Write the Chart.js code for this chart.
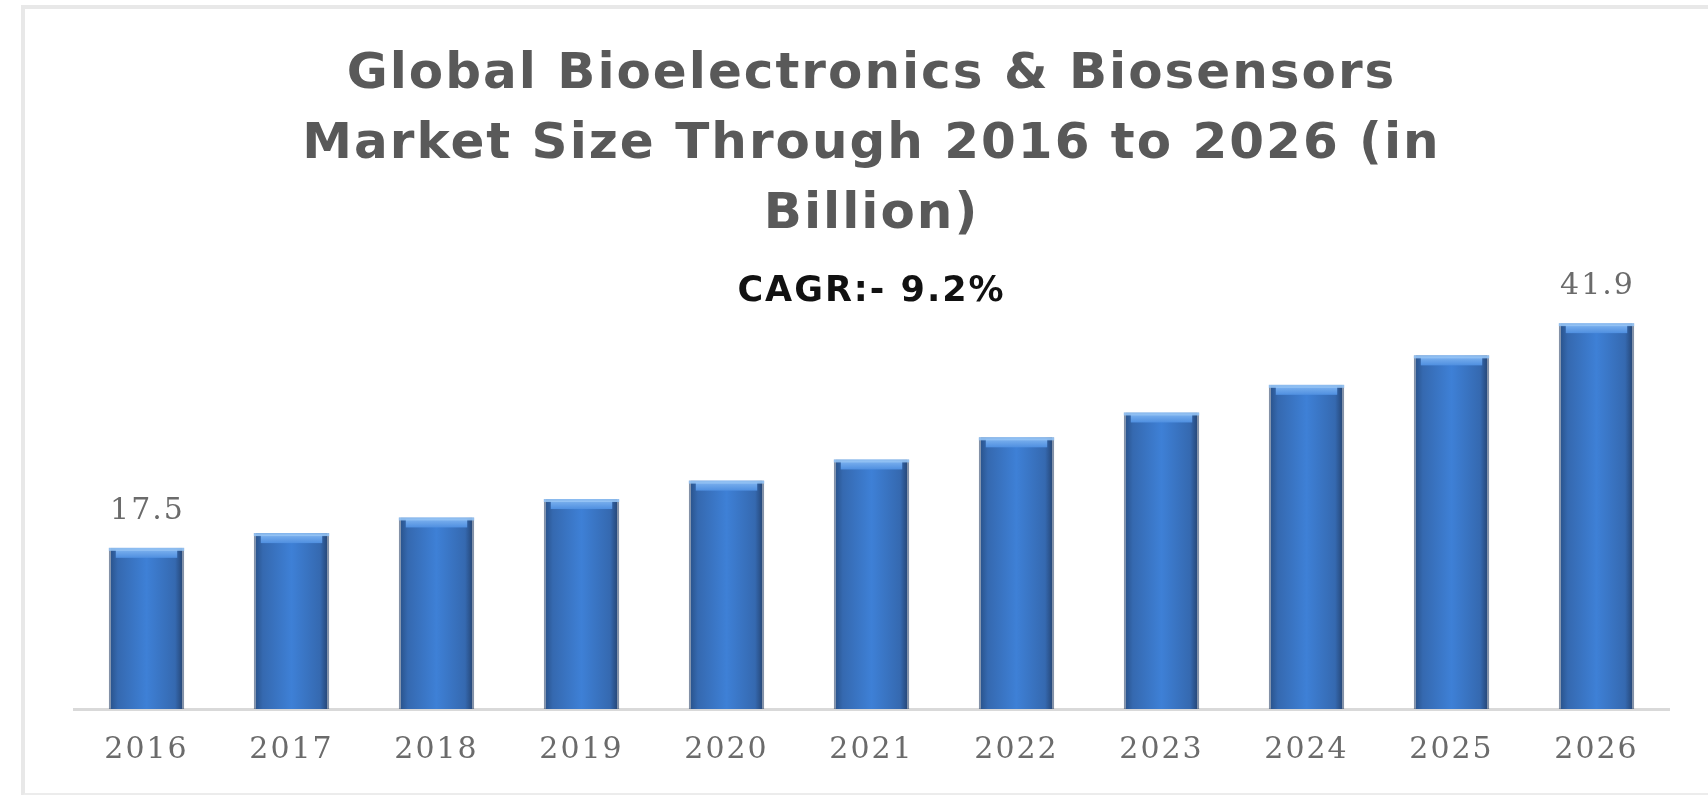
<!DOCTYPE html>
<html>
<head>
<meta charset="utf-8">
<script src="https://cdn.jsdelivr.net/npm/chart.js@4.4.1/dist/chart.umd.min.js"></script>
<style>
  html, body { margin: 0; padding: 0; background: #fff; }
  #frame {
    position: absolute; left: 21px; top: 5px; width: 1700px; height: 784px;
    border-left: 4px solid #e8e8e8; border-top: 4px solid #e8e8e8; border-bottom: 4px solid #ececec;
  }
  #wrap { position: absolute; left: 0; top: 0; width: 1708px; height: 795px; }
</style>
</head>
<body>
<div id="frame"></div>
<div id="wrap"><canvas id="marketsize"></canvas></div>
<script>
const years = ['2016', '2017', '2018', '2019', '2020', '2021', '2022', '2023', '2024', '2025', '2026'];
const marketSize = [17.5, 19.1, 20.8, 22.8, 24.8, 27.1, 29.5, 32.2, 35.2, 38.4, 41.9];
const shownLabels = [true, false, false, false, false, false, false, false, false, false, true];
const titleLines = ['Global Bioelectronics & Biosensors', 'Market Size Through 2016 to 2026 (in', 'Billion)'];
const subtitleText = 'CAGR:- 9.2%';

const barPct = 0.52;

// horizontal shading across each bar, like the 3d look of the original
function barFill(context) {
    const chart = context.chart;
    const xs = chart.scales.x;
    if (!xs || !chart.chartArea) return '#3b7bd0';
    const cx = xs.getPixelForValue(context.dataIndex);
    const w = (xs.width / years.length) * barPct;
    const g = chart.ctx.createLinearGradient(cx - w / 2, 0, cx + w / 2, 0);
    g.addColorStop(0, '#274f85');
    g.addColorStop(0.12, '#3569b0');
    g.addColorStop(0.5, '#3e80d6');
    g.addColorStop(0.88, '#3569b0');
    g.addColorStop(1, '#223f6b');
    return g;
}

// the original text looks stretched sideways, so space the letters a bit
const wideText = {
    id: 'wideText',
    beforeDraw(chart) {
        chart.ctx.letterSpacing = '2px';
    },
    beforeDatasetsDraw(chart) {
        chart.ctx.letterSpacing = '0px';
    }
};

const barDecor = {
    id: 'barDecor',
    afterDatasetsDraw(chart) {
        const ctx = chart.ctx;
        const meta = chart.getDatasetMeta(0);
        meta.data.forEach(function (bar, i) {
            const left = bar.x - bar.width / 2;
            // light cap on top of the bar
            const cap = ctx.createLinearGradient(0, bar.y, 0, bar.y + 10);
            cap.addColorStop(0, '#86b9f2');
            cap.addColorStop(1, '#4f8fe0');
            ctx.fillStyle = cap;
            ctx.fillRect(left + 7, bar.y + 2, bar.width - 14, 8);
            ctx.fillStyle = 'rgba(150,196,245,0.9)';
            ctx.fillRect(left, bar.y, bar.width, 3);

            if (shownLabels[i]) {
                ctx.save();
                ctx.letterSpacing = '2px';
                ctx.font = '30px "DejaVu Serif"';
                ctx.fillStyle = '#6b6b6b';
                ctx.textAlign = 'center';
                ctx.textBaseline = 'middle';
                ctx.fillText(String(marketSize[i]), bar.x + 1, bar.y - 37);
                ctx.restore();
            }
        });
    }
};

const msctx = document.getElementById('marketsize').getContext('2d');
let marketChart = new Chart(msctx, {
    type: 'bar',
    data: {
        labels: years,
        datasets: [{
            label: 'Market Size',
            data: marketSize,
            backgroundColor: barFill,
            borderColor: 'rgba(30,55,95,0.55)',
            borderWidth: { left: 2, right: 2, top: 0, bottom: 0 },
            borderSkipped: false,
            barPercentage: barPct,
            categoryPercentage: 1
        }]
    },
    options: {
        responsive: true,
        maintainAspectRatio: false,
        animation: false,
        layout: { padding: { left: 74, right: 39, top: 40, bottom: 4 } },
        plugins: {
            legend: { display: false },
            tooltip: { enabled: false },
            title: {
                display: true,
                text: titleLines,
                color: '#595959',
                font: { family: 'DejaVu Sans', size: 50, weight: 'bold', lineHeight: 1.4 },
                padding: { top: 0, bottom: 21 }
            },
            subtitle: {
                display: true,
                text: subtitleText,
                color: '#111',
                font: { family: 'DejaVu Sans', size: 35, weight: 'bold' },
                padding: { top: 0, bottom: 0 }
            }
        },
        scales: {
            x: {
                grid: { display: false, drawTicks: false },
                border: { display: true, color: '#d9d9d9', width: 3 },
                ticks: {
                    color: '#6b6b6b',
                    padding: 23,
                    font: { family: 'DejaVu Serif', size: 30 }
                }
            },
            y: {
                display: false,
                min: 0,
                max: 43
            }
        }
    },
    plugins: [wideText, barDecor]
});
</script>
</body>
</html>
